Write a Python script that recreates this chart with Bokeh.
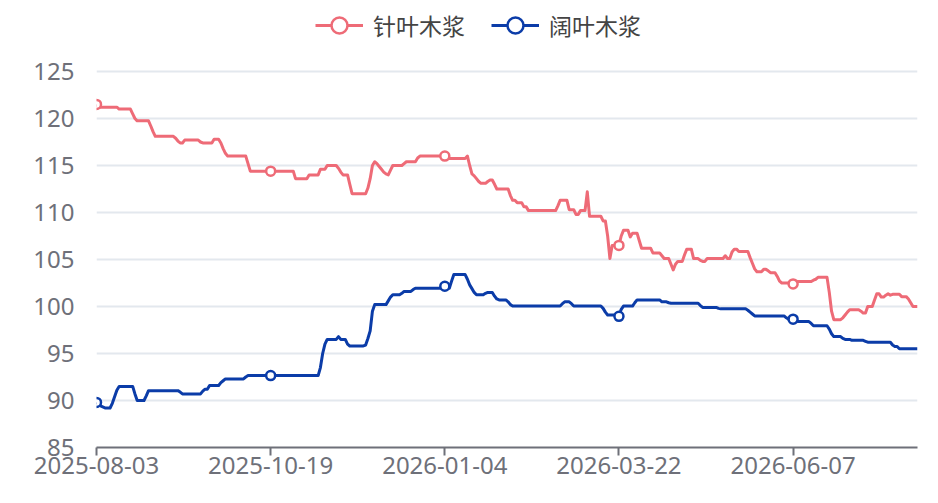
import numpy as np
import pandas as pd
from bokeh.plotting import figure
from bokeh.models import (Range1d, FixedTicker, Legend, LegendItem, ColumnDataSource)
from bokeh.embed import file_html
from bokeh.resources import INLINE

# ---- data ----
start_date = "2025-08-03"
n_days = 364
series_names = ["针叶木浆", "阔叶木浆"]
tick_labels = ["2025-08-03", "2025-10-19", "2026-01-04", "2026-03-22", "2026-06-07"]
y_ticks = [85, 90, 95, 100, 105, 110, 115, 120, 125]

# softwood pulp: day index where a level starts, and that level
softwood_days = [0, 1, 10, 16, 17, 18, 24, 25, 26, 35, 36, 37, 39, 46, 47, 52, 55, 56, 57, 58,
                 67, 68, 88, 94, 99, 102, 107, 108, 109, 112, 113, 120, 121, 122, 123, 124, 125,
                 126, 127, 128, 129, 130, 131, 136, 137, 142, 143, 155, 164, 165, 166, 167, 168,
                 169, 170, 173, 174, 176, 177, 183, 184, 186, 189, 191, 204, 205, 209, 212, 214,
                 217, 218, 224, 226, 227, 228, 232, 233, 236, 237, 240, 241, 246, 250, 251, 254,
                 255, 256, 257, 260, 261, 264, 267, 268, 270, 278, 279, 281, 282, 284, 289, 290,
                 291, 292, 295, 297, 298, 301, 302, 303, 308, 309, 310, 317, 318, 319, 324, 325,
                 326, 330, 331, 332, 333, 338, 339, 341, 344, 345, 347, 349, 350, 351, 352, 356,
                 359, 360, 361]
softwood_values = [121.5, 121.2, 121.0, 120.5, 120.0, 119.75, 119.2, 118.6, 118.1, 117.9, 117.6,
                   117.4, 117.7, 117.5, 117.4, 117.8, 117.4, 116.8, 116.3, 116.0,
                   115.2, 114.4, 113.6, 114.0, 114.6, 115.0, 114.7, 114.3, 114.0, 113.0, 112.0,
                   112.6, 113.6, 115.0, 115.4, 115.2, 114.9,
                   114.6, 114.3, 114.1, 114.0, 114.5, 115.0, 115.2, 115.4, 115.8, 116.0, 115.75,
                   116.0, 115.0, 114.1, 113.9, 113.6,
                   113.3, 113.1, 113.3, 113.45, 113.0, 112.5, 111.8, 111.3, 111.05, 110.6, 110.2,
                   110.7, 111.3, 110.3, 109.8, 110.2,
                   112.2, 109.6, 109.1, 107.5, 105.1, 106.5, 107.5, 108.1, 107.4, 107.8, 107.0,
                   106.2, 105.7, 105.4, 105.1, 104.5,
                   103.9, 104.5, 104.8, 105.5, 106.1, 105.1, 104.9, 104.8, 105.1, 105.4, 105.1,
                   105.8, 106.1, 105.85, 105.2, 104.6,
                   104.0, 103.7, 103.95, 103.8, 103.6, 103.2, 102.7, 102.5, 102.4, 102.5, 102.65,
                   102.8, 102.9, 103.1, 101.5, 99.5,
                   98.6, 98.8, 99.1, 99.4, 99.65, 99.5, 99.3, 100.0, 100.7, 101.35, 101.0, 101.2,
                   101.35, 101.2, 101.3, 101.05,
                   100.8, 100.4, 100.0]

# hardwood pulp
hardwood_days = [0, 1, 2, 3, 4, 7, 8, 9, 10, 17, 18, 22, 23, 37, 38, 47, 48, 50, 55, 56, 57, 66,
                 67, 99, 100, 101, 102, 107, 108, 111, 112, 119, 120, 121, 122, 123, 129, 130,
                 131, 135, 136, 140, 141, 154, 155, 157, 158, 164, 165, 166, 167, 168, 172, 173,
                 176, 177, 178, 182, 183, 184, 206, 207, 210, 211, 224, 225, 226, 230, 231, 232,
                 233, 238, 239, 250, 253, 254, 267, 268, 275, 276, 288, 289, 290, 291, 305, 306,
                 310, 316, 317, 324, 325, 326, 330, 331, 334, 340, 341, 352, 353, 355]
hardwood_values = [89.8, 89.6, 89.4, 89.3, 89.2, 89.7, 90.4, 91.1, 91.5, 90.7, 90.0, 90.5, 91.05,
                   90.9, 90.7, 91.0, 91.2, 91.6, 91.9, 92.1, 92.3, 92.5,
                   92.65, 93.5, 95.0, 96.0, 96.5, 96.8, 96.5, 96.0, 95.8, 95.9, 96.6, 97.4, 99.5,
                   100.2, 100.6, 101.0,
                   101.25, 101.4, 101.6, 101.8, 101.95, 102.15, 101.95, 102.7, 103.4, 102.9,
                   102.3, 101.9, 101.5, 101.25, 101.4, 101.5,
                   101.1, 100.8, 100.7, 100.5, 100.2, 100.05, 100.3, 100.5, 100.3, 100.05, 99.8,
                   99.4, 99.1, 99.0, 98.95, 99.7,
                   100.05, 100.4, 100.7, 100.5, 100.4, 100.35, 100.1, 99.9, 99.8, 99.75, 99.6,
                   99.4, 99.2, 99.0, 98.8, 98.65,
                   98.4, 98.2, 97.95, 97.6, 97.1, 96.8, 96.6, 96.5, 96.4, 96.3, 96.2, 95.9, 95.75,
                   95.5]

red = "#EE6B77"
blue = "#0B3CA8"

# ---- build ----
dates = pd.date_range(start_date, periods=n_days).strftime("%Y-%m-%d").tolist()
x = np.arange(n_days)


def expand(days, values):
    runs = np.diff(list(days) + [n_days])
    return np.repeat(np.array(values, dtype=float), runs)


soft = expand(softwood_days, softwood_values)
hard = expand(hardwood_days, hardwood_values)
tick_pos = [dates.index(t) for t in tick_labels]

# frame spans from the page top to the x axis; the value axis keeps 9.4 px per unit,
# so the space above 125 holds the legend
frame_h = 447
px_per_unit = 376 / (y_ticks[-1] - y_ticks[0])
y_top = y_ticks[0] + frame_h / px_per_unit

p = figure(width=938, height=503, output_backend="svg", toolbar_location=None,
           x_range=Range1d(0, n_days - 1), y_range=Range1d(y_ticks[0], y_top),
           min_border_left=96, min_border_right=21, min_border_top=0, min_border_bottom=56)
p.outline_line_color = None
p.background_fill_color = "white"
p.border_fill_color = "white"

font = "Noto Sans"
cjk_font = "Noto Sans CJK SC"
label_color = "#6E7079"

p.xgrid.grid_line_color = None
p.ygrid.grid_line_color = "#E3E8EE"
p.ygrid.grid_line_width = 2

p.yaxis.ticker = FixedTicker(ticks=y_ticks)
p.yaxis.axis_line_color = None
p.yaxis.major_tick_line_color = None
p.yaxis.minor_tick_line_color = None
p.yaxis.major_label_text_font = font
p.yaxis.major_label_text_font_size = "24px"
p.yaxis.major_label_text_color = label_color
p.yaxis.major_label_standoff = 16

p.xaxis.ticker = FixedTicker(ticks=tick_pos)
p.xaxis.major_label_overrides = {pos: lab for pos, lab in zip(tick_pos, tick_labels)}
p.xaxis.axis_line_color = label_color
p.xaxis.axis_line_width = 2
p.xaxis.major_tick_line_color = label_color
p.xaxis.major_tick_line_width = 2
p.xaxis.major_tick_out = 8
p.xaxis.major_tick_in = 0
p.xaxis.minor_tick_line_color = None
p.xaxis.major_label_text_font = font
p.xaxis.major_label_text_font_size = "24px"
p.xaxis.major_label_text_color = label_color
p.xaxis.major_label_standoff = 1

items = []
for vals, color, name in [(soft, red, series_names[0]), (hard, blue, series_names[1])]:
    src = ColumnDataSource(dict(x=x, y=vals))
    ln = p.line("x", "y", source=src, line_color=color, line_width=3, line_join="round")
    msrc = ColumnDataSource(dict(x=[x[i] for i in tick_pos], y=[vals[i] for i in tick_pos]))
    mk = p.scatter("x", "y", source=msrc, size=9, marker="circle", fill_color="white",
                   line_color=color, line_width=2.5)
    items.append(LegendItem(label=name, renderers=[ln, mk]))

legend = Legend(items=items, orientation="horizontal", location=(219, 402),
                glyph_width=48, glyph_height=40, label_standoff=10, spacing=26,
                padding=0, margin=0, border_line_color=None, background_fill_alpha=0,
                label_text_font=cjk_font, label_text_font_size="23px", label_text_color="#444444")
p.add_layout(legend, "center")

open("out.html", "w").write(file_html(p, INLINE))
